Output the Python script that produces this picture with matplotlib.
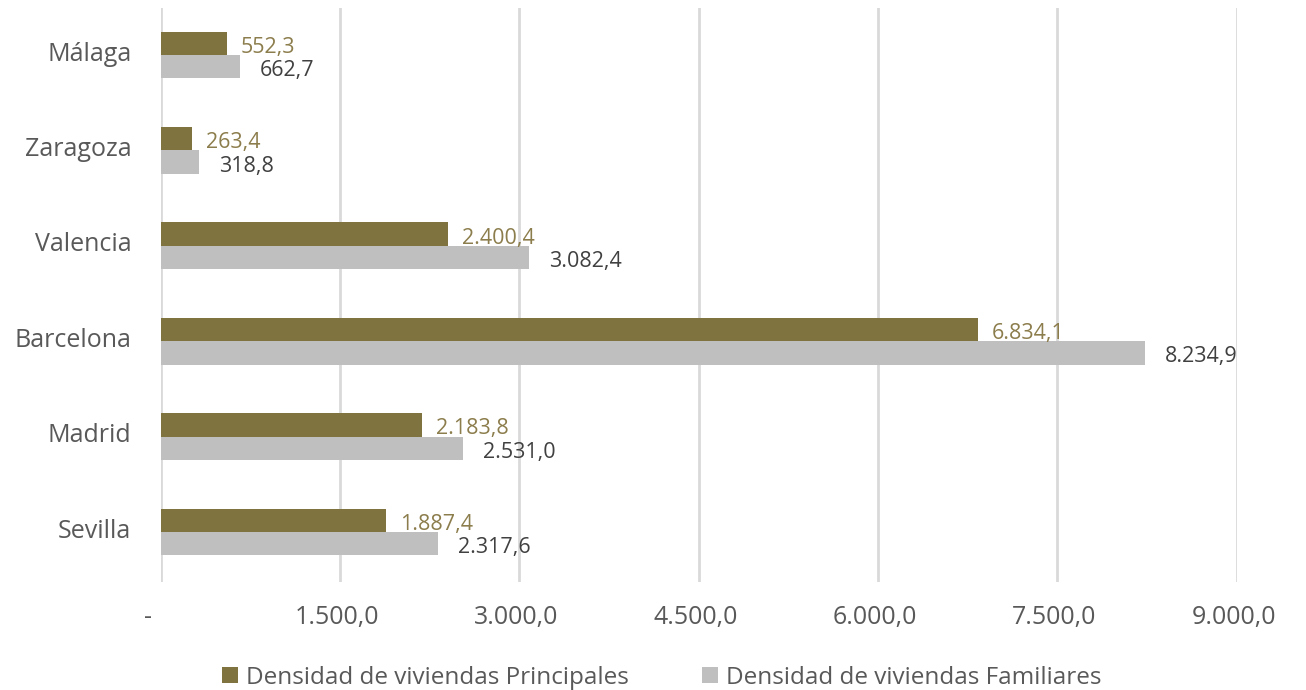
import matplotlib.pyplot as plt
from matplotlib.transforms import ScaledTranslation

ciudades = ['Sevilla', 'Madrid', 'Barcelona', 'Valencia', 'Zaragoza', 'Málaga']
principales = [1887.4, 2183.8, 6834.1, 2400.4, 263.4, 552.3]
familiares = [2317.6, 2531.0, 8234.9, 3082.4, 318.8, 662.7]
ticks = [0, 1500, 3000, 4500, 6000, 7500, 9000]

c_prin = '#7f7340'
c_fam = '#bfbfbf'


def es(v):
    # formato español: punto para miles, coma para decimales
    s = f'{v:,.1f}'
    return s.replace(',', 'X').replace('.', ',').replace('X', '.')


plt.rcParams['font.family'] = ['Open Sans', 'DejaVu Sans']

fig = plt.figure(figsize=(13.06, 6.9), dpi=100)
ax = fig.add_axes([0.123, 0.157, 0.824, 0.831])

y = list(range(len(ciudades)))
h = 0.245
b1 = ax.barh([i + h / 2 for i in y], principales, height=h, color=c_prin,
             label='Densidad de viviendas Principales', zorder=3)
b2 = ax.barh([i - h / 2 for i in y], familiares, height=h, color=c_fam,
             label='Densidad de viviendas Familiares', zorder=3)

for r, v in zip(b1, principales):
    ax.annotate(es(v), (v, r.get_y() + r.get_height() / 2), xytext=(14, -4),
                textcoords='offset pixels', va='center', ha='left',
                fontsize=15.5, color='#8c7d4c')
for r, v in zip(b2, familiares):
    ax.annotate(es(v), (v, r.get_y() + r.get_height() / 2), xytext=(20, -4),
                textcoords='offset pixels', va='center', ha='left',
                fontsize=15.5, color='#404040')

ax.set_xlim(0, 9000)
ax.set_ylim(-0.52, 5.49)
ax.set_xticks(ticks)
ax.set_xticklabels(['-' if t == 0 else es(t) for t in ticks])
ax.set_yticks(y)
ax.set_yticklabels(ciudades)
ax.tick_params(axis='both', length=0, colors='#595959')
ax.tick_params(axis='x', labelsize=18, pad=17)
ax.tick_params(axis='y', labelsize=18, pad=21)
for i, lab in enumerate(ax.get_xticklabels()):
    dx = -0.13 if i == 0 else -0.03
    lab.set_transform(lab.get_transform() + ScaledTranslation(dx, 0, fig.dpi_scale_trans))
for lab in ax.get_yticklabels():
    lab.set_transform(lab.get_transform() + ScaledTranslation(0, 0.04, fig.dpi_scale_trans))

ax.grid(axis='x', color='#d9d9d9', linewidth=2, zorder=0)
for s in ax.spines.values():
    s.set_visible(False)

fig.legend(loc='center', bbox_to_anchor=(0.507, 0.018), ncol=2, frameon=False,
           fontsize=17.5, handlelength=0.65, handleheight=0.65, handletextpad=0.34,
           columnspacing=3.0, labelcolor='#595959', borderpad=0)

fig.savefig('out.png', dpi=100)
